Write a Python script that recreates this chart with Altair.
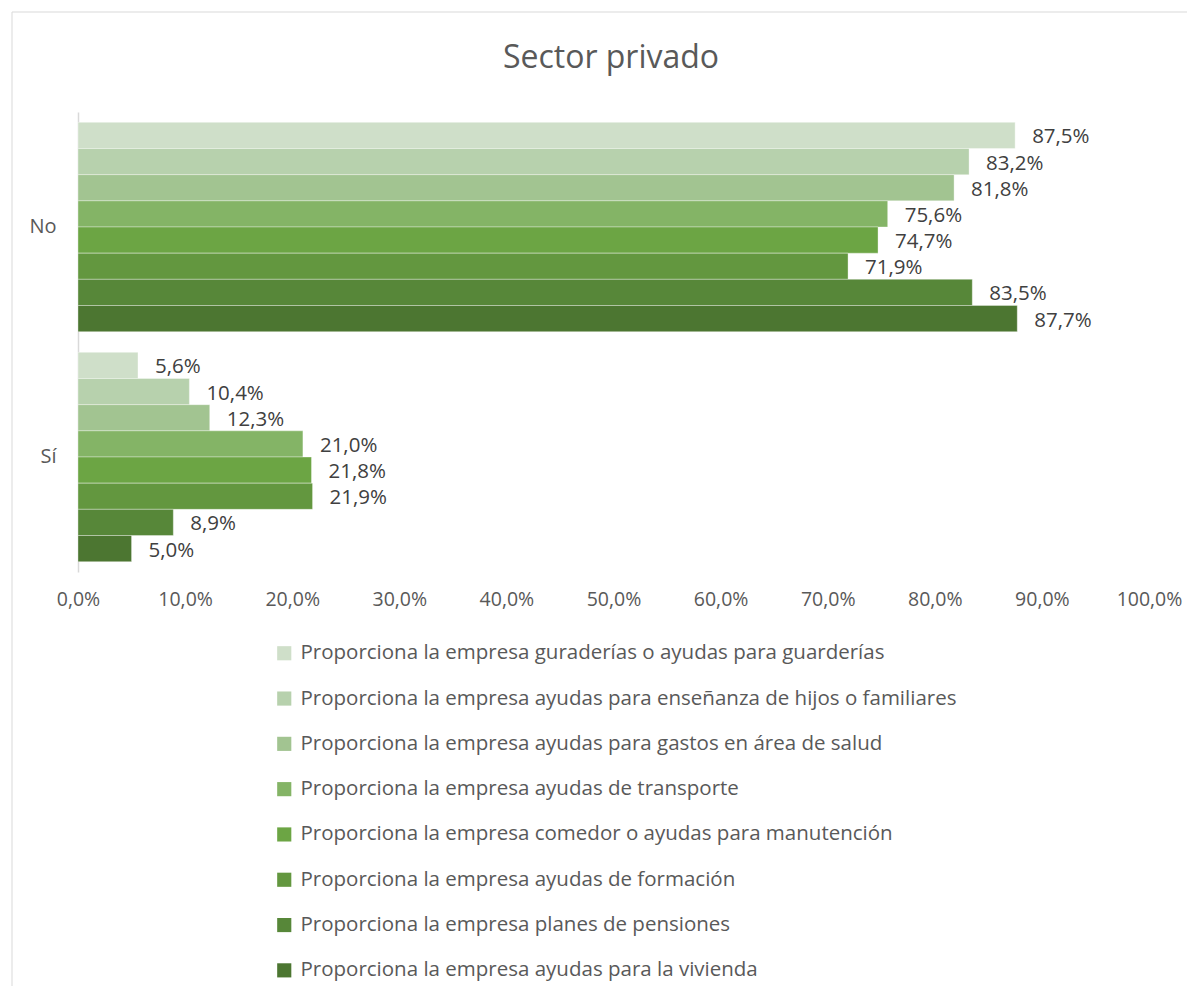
import altair as alt
import pandas as pd

categories = ["No", "Sí"]
series = [
    "Proporciona la empresa guraderías o ayudas para guarderías",
    "Proporciona la empresa ayudas para enseñanza de hijos o familiares",
    "Proporciona la empresa ayudas para gastos en área de salud",
    "Proporciona la empresa ayudas de transporte",
    "Proporciona la empresa comedor o ayudas para manutención",
    "Proporciona la empresa ayudas de formación",
    "Proporciona la empresa planes de pensiones",
    "Proporciona la empresa ayudas para la vivienda",
]
values_no = [87.5, 83.2, 81.8, 75.6, 74.7, 71.9, 83.5, 87.7]
values_si = [5.6, 10.4, 12.3, 21.0, 21.8, 21.9, 8.9, 5.0]
colors = ["#cfdfc9", "#b7d1ad", "#a2c491", "#84b466", "#6ca544", "#63973f", "#578739", "#4c7631"]
x_ticks = [0, 10, 20, 30, 40, 50, 60, 70, 80, 90, 100]
title_text = "Sector privado"

rows = []
for cat, vals in zip(categories, [values_no, values_si]):
    for i, (s, v) in enumerate(zip(series, vals)):
        rows.append({"cat": cat, "serie": s, "order": i, "value": v,
                     "label": f"{v:.1f}".replace(".", ",") + "%"})
df = pd.DataFrame(rows)

FONT = "Open Sans"

y_enc = alt.Y("cat:N", sort=categories, title=None,
              scale=alt.Scale(paddingInner=0.09, paddingOuter=0.045),
              axis=alt.Axis(labelFontSize=20, labelColor="#595959", labelFont=FONT,
                            ticks=False, labelPadding=22, domainColor="#d9d9d9",
                            domainWidth=1.5))
x_enc = alt.X("value:Q", title=None,
              scale=alt.Scale(domain=[0, 100], nice=False),
              axis=alt.Axis(values=x_ticks, grid=False, domain=False, ticks=False,
                            labelFontSize=19.5, labelColor="#595959", labelFont=FONT,
                            labelPadding=18, labelFlush=False,
                            labelExpr="replace(format(datum.value, '.1f'), '.', ',') + '%'"))
yoff = alt.YOffset("serie:N", sort=series, scale=alt.Scale(paddingInner=0, paddingOuter=0))

bars = alt.Chart(df).mark_bar(stroke="white", strokeWidth=1, strokeOpacity=0.35).encode(
    y=y_enc, x=x_enc, yOffset=yoff,
    color=alt.Color("serie:N", sort=series, scale=alt.Scale(domain=series, range=colors),
                    legend=alt.Legend(title=None, orient="none", legendX=196, legendY=531,
                                      direction="vertical", symbolType="square",
                                      symbolSize=200, symbolStrokeWidth=0,
                                      labelFontSize=20.5, labelFont=FONT,
                                      labelColor="#595959", rowPadding=24.3,
                                      labelLimit=1000, symbolOffset=0, labelOffset=6)),
)

texts = alt.Chart(df).mark_text(align="left", baseline="middle", dx=17, dy=2,
                                fontSize=20.5, font=FONT, color="#404040").encode(
    y=alt.Y("cat:N", sort=categories), x="value:Q", yOffset=yoff, text="label:N"
)

title_df = pd.DataFrame({"t": [title_text]})
title = alt.Chart(title_df).mark_text(align="center", baseline="alphabetic", fontSize=32,
                                      font=FONT, color="#595959").encode(
    x=alt.value(533), y=alt.value(-44), text="t:N"
)

border = alt.Chart(title_df).mark_rule(color="#d9d9d9", strokeWidth=1).encode(
    x=alt.value(-66), y=alt.value(-100), y2=alt.value(900)
)
border_top = alt.Chart(title_df).mark_rule(color="#d9d9d9", strokeWidth=1).encode(
    x=alt.value(-66), x2=alt.value(1200), y=alt.value(-100)
)

chart = alt.layer(border, border_top, title, bars, texts).properties(
    width=1071, height=460,
    autosize=alt.AutoSizeParams(type="none"),
    padding={"left": 70, "top": 104, "right": 38, "bottom": 414},
).configure_view(stroke=None)

chart.save("out.html", embed_options={"renderer": "svg", "actions": False})
